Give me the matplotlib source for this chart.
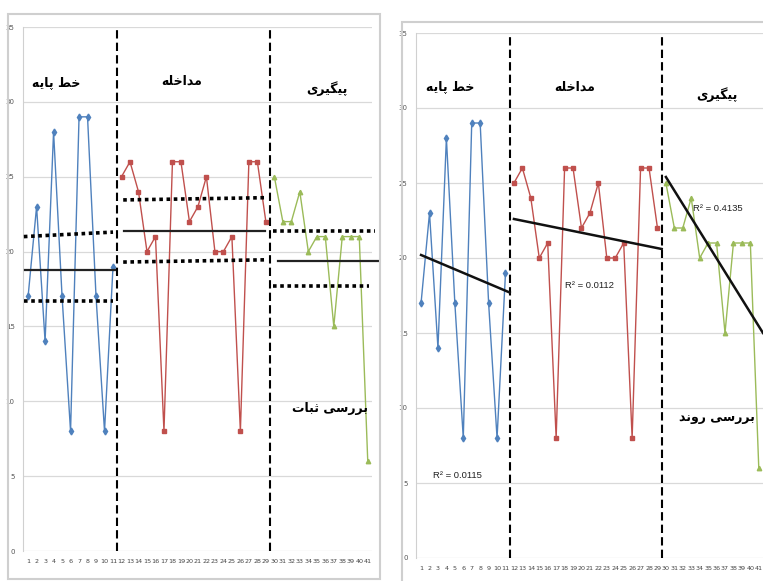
import matplotlib
matplotlib.use("Agg")
import matplotlib.pyplot as plt
from matplotlib.patches import Rectangle

# ---------------- data ----------------
x_labels = [str(i) for i in range(1, 42)]
baseline_x = list(range(1, 12))
baseline = [17, 23, 14, 28, 17, 8, 29, 29, 17, 8, 19]
intervention_x = list(range(12, 30))
intervention = [25, 26, 24, 20, 21, 8, 26, 26, 22, 23, 25, 20, 20, 21, 8, 26, 26, 22]
followup_x = list(range(30, 42))
followup = [25, 22, 22, 24, 20, 21, 21, 15, 21, 21, 21, 6]
phase_breaks = [11.5, 29.5]
y_ticks = [0, 5, 10, 15, 20, 25, 30, 35]

phase_names = ["خط پایه", "مداخله", "پیگیری"]
stability_title = "بررسی ثبات"
trend_title = "بررسی روند"

# stability band levels
stab_mean = [18.8, 21.35, 19.4]
stab_upper = [(21.0, 21.3), (23.45, 23.6), (21.4, 21.4)]
stab_lower = [(16.7, 16.7), (19.3, 19.45), (17.7, 17.7)]
# trend lines (start value, end value)
trend_vals = [(20.2, 17.7), (22.6, 20.6), (25.4, 15.0)]
r2_labels = ["R² = 0.0115", "R² = 0.0112", "R² = 0.4135"]

# ---------------- Persian shaping ----------------
FORMS = {
    'ب': (0xFE8F, 0xFE90, 0xFE91, 0xFE92), 'پ': (0xFB56, 0xFB57, 0xFB58, 0xFB59),
    'ت': (0xFE95, 0xFE96, 0xFE97, 0xFE98), 'ث': (0xFE99, 0xFE9A, 0xFE9B, 0xFE9C),
    'خ': (0xFEA5, 0xFEA6, 0xFEA7, 0xFEA8), 'د': (0xFEA9, 0xFEAA, None, None),
    'ر': (0xFEAD, 0xFEAE, None, None), 'س': (0xFEB1, 0xFEB2, 0xFEB3, 0xFEB4),
    'ط': (0xFEC1, 0xFEC2, 0xFEC3, 0xFEC4), 'گ': (0xFB92, 0xFB93, 0xFB94, 0xFB95),
    'ل': (0xFEDD, 0xFEDE, 0xFEDF, 0xFEE0), 'م': (0xFEE1, 0xFEE2, 0xFEE3, 0xFEE4),
    'ن': (0xFEE5, 0xFEE6, 0xFEE7, 0xFEE8), 'ه': (0xFEE9, 0xFEEA, 0xFEEB, 0xFEEC),
    'و': (0xFEED, 0xFEEE, None, None), 'ا': (0xFE8D, 0xFE8E, None, None),
    'ی': (0xFBFC, 0xFBFD, 0xFBFE, 0xFBFF),
}


def shape(s):
    out = []
    n = len(s)
    for i, c in enumerate(s):
        if c not in FORMS:
            out.append(c)
            continue
        f = FORMS[c]
        prev = s[i - 1] if i > 0 else None
        nxt = s[i + 1] if i < n - 1 else None
        jp = prev in FORMS and FORMS[prev][2] is not None
        jn = f[2] is not None and nxt in FORMS
        if jp and jn:
            cp = f[3]
        elif jp:
            cp = f[1]
        elif jn:
            cp = f[2]
        else:
            cp = f[0]
        out.append(chr(cp))
    return "".join(reversed(out))


# ---------------- figure ----------------
W, H = 763, 581
fig = plt.figure(figsize=(W / 100, H / 100), dpi=100)
fig.patch.set_facecolor("white")

fig.patches.append(Rectangle((8 / W, 1 - 579 / H), 372 / W, (579 - 14) / H,
                             transform=fig.transFigure, fill=False,
                             edgecolor="#cfcfcf", lw=1.5))
fig.patches.append(Rectangle((402 / W, -0.05), 400 / W, 1.05 - 22 / H,
                             transform=fig.transFigure, fill=False,
                             edgecolor="#cfcfcf", lw=1.5))

BLUE = "#4F81BD"
RED = "#C0504D"
GREEN = "#9BBB59"
AR_FONT = ["DejaVu Sans"]
AR_KW = dict(ha="center", va="center", fontsize=9, fontweight="bold",
             family=AR_FONT, zorder=6)


def setup(ax):
    ax.set_xlim(0.4, 41.5)
    ax.set_ylim(0, 35)
    ax.set_yticks(y_ticks)
    ax.set_yticklabels([str(v) for v in y_ticks], fontsize=5, color="#555555")
    ax.set_xticks(range(1, 42))
    ax.set_xticklabels(x_labels, fontsize=4.6, color="#444444")
    ax.tick_params(length=0, pad=6)
    for sp in ["top", "right", "bottom"]:
        ax.spines[sp].set_visible(False)
    ax.spines["left"].set_color("#d0d0d0")
    ax.spines["left"].set_linewidth(0.8)
    for v in y_ticks:
        ax.axhline(v, color="#d9d9d9", lw=0.9, zorder=0)
    ax.plot(baseline_x, baseline, color=BLUE, lw=1.0, marker="d", ms=3.5, zorder=3)
    ax.plot(intervention_x, intervention, color=RED, lw=1.0, marker="s", ms=3.5, zorder=3)
    ax.plot(followup_x, followup, color=GREEN, lw=1.0, marker="^", ms=3.2, zorder=3)
    for b in phase_breaks:
        ax.axvline(b, color="black", lw=1.5, ls=(0, (4, 2)), zorder=4)


# ---------- left panel: stability ----------
axL = fig.add_axes([23 / W, 1 - 551 / H, (372 - 23) / W, (551 - 27) / H])
setup(axL)
mean_x = [(0.65, 11.2), (12.3, 28.9), (30.4, 42.2)]
up_x = [(0.5, 11.0), (12.2, 29.1), (29.9, 41.8)]
lo_x = [(0.5, 11.0), (12.2, 29.1), (29.8, 41.2)]
for i in range(3):
    axL.plot(mean_x[i], [stab_mean[i], stab_mean[i]], color="#222222", lw=1.6,
             zorder=5, clip_on=False)
    axL.plot(up_x[i], stab_upper[i], color="black", lw=2.6, ls=(0, (1, 1)),
             zorder=5, clip_on=False)
    axL.plot(lo_x[i], stab_lower[i], color="black", lw=2.6, ls=(0, (1, 1)),
             zorder=5, clip_on=False)

title_pos_L = [(4.3, 31.3), (19.1, 31.4), (36.2, 30.9)]
for (tx, ty), name in zip(title_pos_L, phase_names):
    axL.text(tx, ty, shape(name), **AR_KW)
axL.text(36.5, 9.5, shape(stability_title), **AR_KW)

# ---------- right panel: trend ----------
axR = fig.add_axes([416 / W, 1 - 558 / H, (763 - 416) / W, (558 - 33) / H])
setup(axR)
trend_x = [(1, 11.5), (12, 29.5), (30, 41.5)]
for i in range(3):
    axR.plot(trend_x[i], trend_vals[i], color="#111111", lw=1.8, zorder=5)

title_pos_R = [(4.4, 31.4), (19.2, 31.4), (36.1, 30.9)]
for (tx, ty), name in zip(title_pos_R, phase_names):
    axR.text(tx, ty, shape(name), **AR_KW)
axR.text(36.0, 9.4, shape(trend_title), **AR_KW)

r2_pos = [(5.3, 5.5), (21.0, 18.2), (36.1, 23.3)]
for (tx, ty), lab in zip(r2_pos, r2_labels):
    axR.text(tx, ty, lab, ha="center", va="center", fontsize=6.8, color="#222222",
             family=["Liberation Sans", "DejaVu Sans"], zorder=6)

fig.savefig("out.png", dpi=100, facecolor="white")
